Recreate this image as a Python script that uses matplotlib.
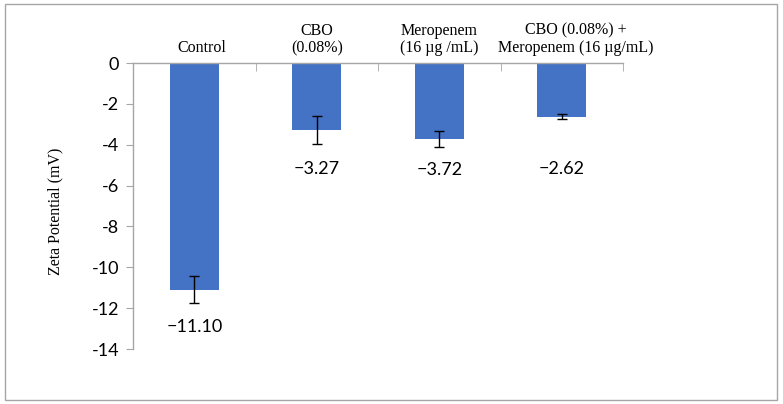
import matplotlib
matplotlib.use("Agg")
import matplotlib.pyplot as plt
from matplotlib.patches import Rectangle
from matplotlib.transforms import ScaledTranslation
import numpy as np

categories = ["Control", "CBO\n(0.08%)", "Meropenem\n(16 µg /mL)", "CBO (0.08%) +\nMeropenem (16 µg/mL)"]
values = [-11.10, -3.27, -3.72, -2.62]
errors = [0.65, 0.70, 0.41, 0.12]
value_labels = ["\u221211.10", "\u22123.27", "\u22123.72", "\u22122.62"]
yticks = [0, -2, -4, -6, -8, -10, -12, -14]

fig = plt.figure(figsize=(7.83, 4.04), dpi=100)
ax = fig.add_axes([133/783, 1-349/404, (623-133)/783, (349-63)/404])

x = np.arange(len(categories))
ax.bar(x, values, width=0.4, color="#4472C4", zorder=2)
ax.errorbar(x, values, yerr=errors, fmt="none", ecolor="black", elinewidth=1, capsize=3.5, capthick=1, zorder=3)

# label offsets below the bar end (points), placed as in the reference
label_offsets = [27, 28, 22, 38]
for xi, v, lab, off in zip(x, values, value_labels, label_offsets):
    ax.annotate(lab, (xi, v), xytext=(0, -off), textcoords="offset points",
                ha="center", va="center", fontsize=13, family="Lato", color="black")

ax.set_xlim(-0.5, len(categories) - 0.5)
ax.set_ylim(-14, 0)
ax.set_yticks(yticks)
ax.set_yticklabels([str(t) for t in yticks], fontsize=13, family="Lato")

ax.xaxis.tick_top()
ax.set_xticks(x)
ax.set_xticklabels(categories, fontsize=11.5, family="Liberation Serif", linespacing=1.1)
ax.tick_params(axis="x", which="major", length=0, pad=5)
# horizontal nudges of the category text boxes (points)
nudges = [5.5, 0, 0, 10]
for tl, dx in zip(ax.get_xticklabels(), nudges):
    tl.set_transform(tl.get_transform() + ScaledTranslation(dx/72, 0, fig.dpi_scale_trans))
ax.set_xticks(np.arange(-0.5, len(categories)), minor=True)
ax.tick_params(axis="x", which="minor", direction="in", length=6, color="#a6a6a6", top=True, bottom=False)
ax.tick_params(axis="y", direction="out", length=5, color="#a6a6a6", pad=5)

for s in ["right", "bottom"]:
    ax.spines[s].set_visible(False)
for s in ["left", "top"]:
    ax.spines[s].set_color("#a6a6a6")
    ax.spines[s].set_linewidth(1)

ax.set_ylabel("Zeta Potential (mV)", fontsize=11.5, family="Liberation Serif")
ax.yaxis.set_label_coords(-(133-63)/490, 0.48)

fig.patches.append(Rectangle((5/783, 1-400/404), (777-5)/783, (400-4)/404,
                             transform=fig.transFigure, fill=False, edgecolor="#a6a6a6", linewidth=1))

fig.savefig("out.png", dpi=100)
